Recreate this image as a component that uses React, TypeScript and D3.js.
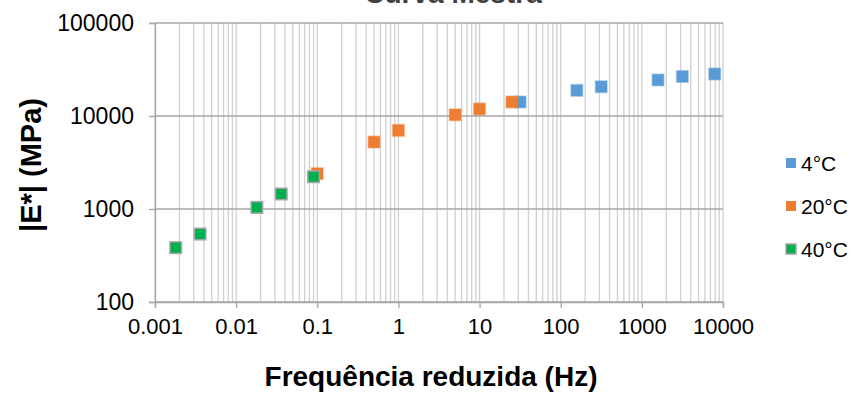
import React, { useRef, useEffect } from "react";
import * as d3 from "d3";

// Master curve data
const freq4 = [31.6, 158, 316, 1580, 3160, 7900];
const modulus4 = [14150, 18850, 20650, 24400, 26600, 28300];
const freq20 = [0.1, 0.5, 1, 5, 10, 25];
const modulus20 = [2400, 5250, 7000, 10300, 11900, 14150];
const freq40 = [0.0018, 0.0036, 0.018, 0.036, 0.09];
const modulus40 = [384, 538, 1040, 1450, 2225];

const xTicks = [0.001, 0.01, 0.1, 1, 10, 100, 1000, 10000];
const xTickLabels = ["0.001", "0.01", "0.1", "1", "10", "100", "1000", "10000"];
const yTicks = [100, 1000, 10000, 100000];
const yTickLabels = ["100", "1000", "10000", "100000"];

const seriesNames = ["4°C", "20°C", "40°C"];

type Pt = { f: number; e: number };

export default function App() {
  const svgRef = useRef<SVGSVGElement>(null);

  useEffect(() => {
    if (!svgRef.current) return;
    const svg = d3.select(svgRef.current);
    svg.selectAll("*").remove();

    const width = 853;
    const height = 393;
    const margin = { top: 23, right: 130, bottom: 91, left: 155 };
    const innerWidth = width - margin.left - margin.right;
    const innerHeight = height - margin.top - margin.bottom;
    const font = "'Liberation Sans', Arial, sans-serif";

    const xScale = d3.scaleLog().domain([0.001, 10000]).range([0, innerWidth]);
    const yScale = d3.scaleLog().domain([100, 100000]).range([innerHeight, 0]);

    const g = svg.append("g").attr("transform", `translate(${margin.left},${margin.top})`);

    // vertical gridlines: every minor + major step
    const minorX: number[] = [];
    for (let p = -3; p < 4; p++) {
      for (let k = 1; k <= 9; k++) minorX.push(k * Math.pow(10, p));
    }
    minorX.push(10000);
    g.append("g")
      .selectAll("line")
      .data(minorX)
      .join("line")
      .attr("x1", d => xScale(d))
      .attr("x2", d => xScale(d))
      .attr("y1", 0)
      .attr("y2", innerHeight)
      .attr("stroke", "#d0d0d0")
      .attr("stroke-width", 1.3);

    // horizontal major gridlines
    g.append("g")
      .selectAll("line")
      .data(yTicks)
      .join("line")
      .attr("x1", 0)
      .attr("x2", innerWidth)
      .attr("y1", d => yScale(d))
      .attr("y2", d => yScale(d))
      .attr("stroke", "#a6a6a6")
      .attr("stroke-width", 1.3);

    // axes
    const xAxis = d3.axisBottom(xScale)
      .tickValues(xTicks)
      .tickSize(6)
      .tickPadding(10)
      .tickFormat((_, i) => xTickLabels[i]);
    const xAxisGroup = g.append("g")
      .attr("transform", `translate(0,${innerHeight})`)
      .call(xAxis);
    xAxisGroup.select(".domain").attr("stroke", "#a6a6a6").attr("stroke-width", 1.3);
    xAxisGroup.selectAll("line").attr("stroke", "#a6a6a6").attr("stroke-width", 1.3);
    xAxisGroup.selectAll("text")
      .style("font-family", font)
      .style("font-size", "22px")
      .style("fill", "#000");

    const yAxis = d3.axisLeft(yScale)
      .tickValues(yTicks)
      .tickSize(6)
      .tickPadding(15)
      .tickFormat((_, i) => yTickLabels[i]);
    const yAxisGroup = g.append("g").call(yAxis);
    yAxisGroup.select(".domain").attr("stroke", "#a6a6a6").attr("stroke-width", 1.3);
    yAxisGroup.selectAll("line").attr("stroke", "#a6a6a6").attr("stroke-width", 1.3);
    yAxisGroup.selectAll("text")
      .style("font-family", font)
      .style("font-size", "23px")
      .style("fill", "#000");

    // series
    const series = [
      { name: seriesNames[0], data: freq4.map((f, i) => ({ f, e: modulus4[i] })), fill: "#5b9bd5", stroke: "#5b9bd5" },
      { name: seriesNames[1], data: freq20.map((f, i) => ({ f, e: modulus20[i] })), fill: "#ed7d31", stroke: "#ed7d31" },
      { name: seriesNames[2], data: freq40.map((f, i) => ({ f, e: modulus40[i] })), fill: "#00b050", stroke: "#a5a5a5" },
    ];

    const size = 11.5;
    series.forEach(s => {
      g.append("g")
        .selectAll("rect")
        .data<Pt>(s.data)
        .join("rect")
        .attr("x", d => xScale(d.f) - size / 2)
        .attr("y", d => yScale(d.e) - size / 2)
        .attr("width", size)
        .attr("height", size)
        .attr("fill", s.fill)
        .attr("stroke", s.stroke)
        .attr("stroke-opacity", s.name === "40°C" ? 1 : 0.45)
        .attr("stroke-width", 1.5);
    });

    // title (cut off at the top, as in the original)
    svg.append("text")
      .attr("x", 453)
      .attr("y", 3)
      .attr("text-anchor", "middle")
      .style("font-family", font)
      .style("font-size", "28px")
      .style("font-weight", "bold")
      .style("fill", "#404040")
      .text("Curva Mestra");

    // axis titles
    svg.append("text")
      .attr("x", 431)
      .attr("y", 386)
      .attr("text-anchor", "middle")
      .style("font-family", font)
      .style("font-size", "28px")
      .style("font-weight", "bold")
      .style("fill", "#000")
      .text("Frequência reduzida (Hz)");

    svg.append("text")
      .attr("transform", "rotate(-90)")
      .attr("x", -165)
      .attr("y", 41)
      .attr("text-anchor", "middle")
      .style("font-family", font)
      .style("font-size", "29px")
      .style("font-weight", "bold")
      .style("fill", "#000")
      .text("|E*| (MPa)");

    // legend
    const legend = svg.append("g").attr("transform", "translate(786,163)");
    series.forEach((s, i) => {
      const y = i * 43;
      legend.append("rect")
        .attr("x", 0)
        .attr("y", y - 5)
        .attr("width", 10)
        .attr("height", 10)
        .attr("fill", s.fill)
        .attr("stroke", s.name === "40°C" ? "#a5a5a5" : "none")
        .attr("stroke-width", 1.5);
      legend.append("text")
        .attr("x", 15)
        .attr("y", y + 7.5)
        .style("font-family", font)
        .style("font-size", "21px")
        .style("fill", "#000")
        .text(s.name);
    });
  }, []);

  return (
    <svg
      ref={svgRef}
      width={853}
      height={393}
      style={{ position: "absolute", left: 0, top: 0, background: "#fff" }}
    />
  );
}
